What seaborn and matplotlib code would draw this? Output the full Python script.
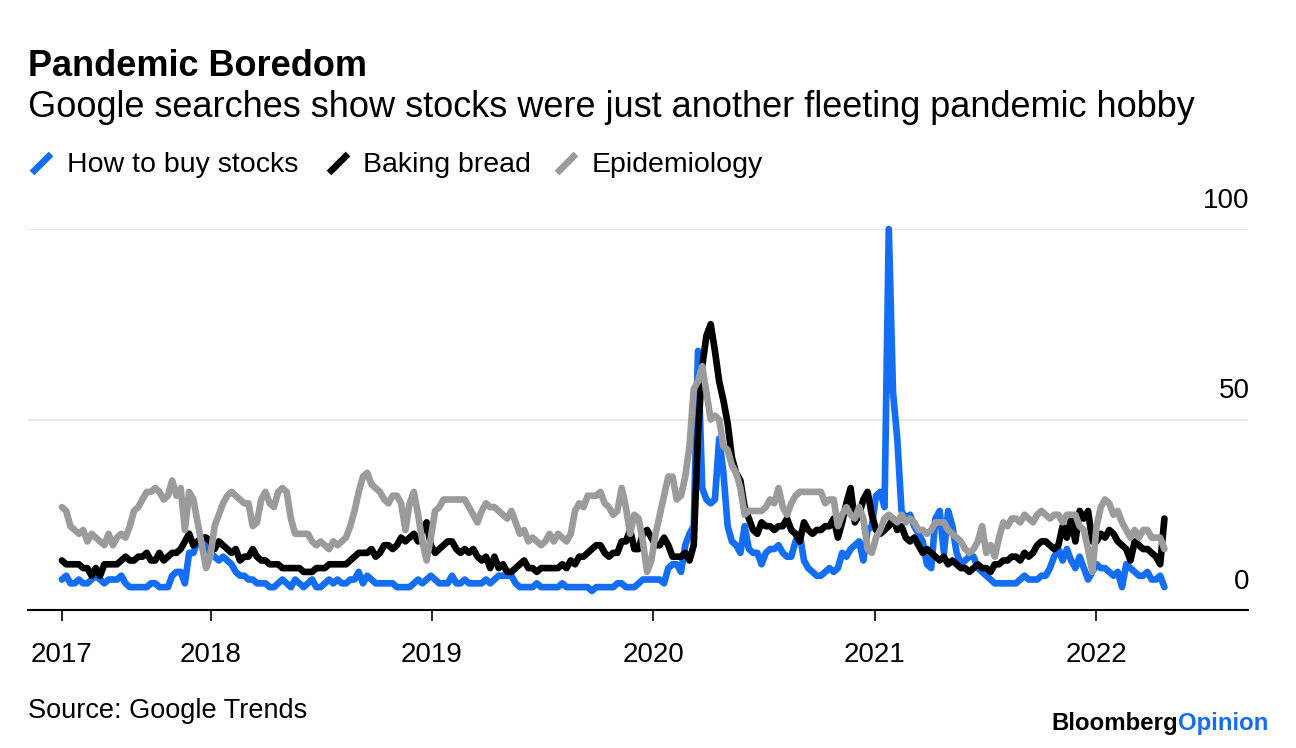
import numpy as np
import pandas as pd
import matplotlib
matplotlib.use("Agg")
import matplotlib.pyplot as plt
from matplotlib.lines import Line2D
import seaborn as sns

# ---------------- data (weekly Google Trends index) ----------------
START = "2017-04-30"
series_names = ["How to buy stocks", "Baking bread", "Epidemiology"]
year_labels = ["2017", "2018", "2019", "2020", "2021", "2022"]
y_ticks = [0, 50, 100]

how_to_buy_stocks = [
    8, 9, 7, 7, 8, 7, 7, 8, 9, 8, 7, 8, 8, 8, 9, 7,
    6, 6, 6, 6, 6, 7, 7, 6, 6, 6,
    9, 10, 10, 7,
    15, 15, 18, 18, 17, 15, 14, 13, 14, 13, 12, 10, 9, 9, 8, 8, 7, 7, 7, 6, 6, 7, 8, 7, 6, 8, 7, 6, 7, 8, 6,
    6, 7, 8, 7, 8, 7, 7, 8, 8, 10, 7, 9, 8, 7, 7, 7, 7, 7, 6, 6, 6, 6, 7, 8, 7, 8, 9, 8, 7, 7,
    7, 9, 7, 7, 8, 7, 7, 7, 7, 8, 7, 8, 9, 9, 9, 9, 7, 6, 6, 6, 6, 7, 6, 6, 6, 6, 6, 7, 6, 6,
    6, 6, 6, 6, 5, 6, 6, 6, 6, 6, 7, 7, 6, 6, 6, 7, 8, 8, 8, 8, 8, 7, 11, 12, 12, 10, 17, 20, 22, 68,
    32, 29, 28, 29, 45, 36, 22, 18, 17, 15, 22, 16, 15, 15, 12, 15, 16, 16, 17, 15, 14, 14, 18, 20, 13, 11, 10, 9, 9, 10, 11, 10,
    11, 15, 14, 16, 17, 18, 13, 21, 22, 30, 31, 27, 100, 57, 45, 26, 24, 25, 22, 20, 18, 12, 11, 24, 26, 15, 26, 22, 15, 12,
    13, 14, 14, 11, 10, 9, 8, 7, 7, 7, 7, 7, 7, 8, 9, 8, 8, 8, 9, 9, 11, 14, 16, 13, 16, 13, 11, 14,
    11, 8, 10, 12, 11, 11, 10, 9, 10, 6, 12, 11, 10, 9, 9, 10, 8, 8, 9, 6,
]

baking_bread = [
    13, 12, 12, 12, 12, 11, 11, 9, 11, 9, 12, 12, 12, 12, 13, 14, 13, 13, 14, 14, 15, 13, 13, 15, 13, 14, 15, 15, 16, 18, 20,
    17, 18, 19, 19, 18, 16, 18, 17, 16, 15, 16, 13, 14, 14, 16, 14, 13, 13, 12, 12, 12, 11, 11, 11, 11, 11, 10, 10, 10, 11,
    11, 11, 12, 12, 12, 12, 12, 13, 14, 15, 15, 15, 16, 14, 15, 17, 17, 16, 17, 19, 18, 19, 20, 18, 21, 23, 17, 15, 16, 17,
    18, 18, 16, 15, 16, 15, 16, 14, 13, 14, 11, 14, 11, 12, 10, 10, 11, 12, 13, 11, 11, 10, 11, 11, 11, 11, 11, 12, 11, 13,
    12, 14, 14, 15, 16, 17, 17, 15, 14, 15, 15, 18, 18, 21, 16, 16, 20, 21, 19, 17, 17, 19, 17, 14, 14, 14, 15, 13, 17, 46, 64, 72, 75,
    68, 60, 55, 49, 40, 36, 34, 27, 24, 21, 20, 23, 22, 22, 21, 22, 22, 24, 21, 20, 18, 23, 21, 20, 21, 21, 22, 22, 24,
    19, 23, 28, 32, 23, 25, 29, 31, 25, 21, 20, 21, 22, 24, 21, 22, 19, 18, 19, 17, 15, 16, 15, 14, 13, 14, 12, 13, 12, 11,
    11, 10, 11, 12, 11, 11, 10, 12, 12, 13, 13, 14, 14, 13, 15, 14, 15, 17, 18, 18, 17, 16, 17, 22, 19, 24, 18, 26,
    24, 26, 18, 18, 20, 19, 21, 20, 18, 17, 16, 13, 18, 17, 16, 16, 15, 14, 12, 24,
]

epidemiology = [
    27, 26, 22, 21, 20, 21, 18, 20, 19, 18, 17, 20, 17, 19, 20, 19, 22, 26, 27, 29, 31, 31, 32, 31, 29, 30, 34, 30, 32,
    21, 31, 29, 23, 17, 11, 14, 22, 25, 28, 30, 31, 30, 29, 28, 28, 22, 23, 29, 31, 28, 27, 31, 32, 31, 24, 20, 20, 20, 20, 18, 17,
    18, 17, 16, 18, 17, 18, 19, 22, 26, 31, 35, 36, 33, 32, 31, 29, 28, 30, 30, 28, 21, 28, 31, 25, 18, 13, 19, 26, 27, 29,
    29, 29, 29, 29, 29, 27, 25, 23, 26, 28, 27, 27, 26, 25, 24, 26, 23, 20, 21, 18, 19, 18, 17, 18, 20, 18, 20, 19, 18, 20,
    26, 28, 27, 30, 30, 30, 31, 28, 27, 25, 26, 32, 27, 20, 25, 24, 18, 10, 13, 20, 25, 30, 35, 35, 29, 30, 35, 43, 58, 60, 64, 57,
    50, 51, 50, 43, 42, 38, 36, 32, 25, 26, 26, 26, 26, 27, 29, 28, 32, 27, 25, 28, 30, 31, 31, 31, 31, 31, 31, 28, 29, 29,
    22, 25, 27, 25, 24, 27, 24, 16, 15, 19, 21, 24, 25, 24, 23, 25, 23, 24, 23, 21, 21, 20, 21, 23, 23, 23, 21, 20, 19, 18,
    16, 15, 16, 18, 22, 15, 17, 14, 19, 23, 22, 24, 24, 23, 25, 24, 23, 25, 26, 25, 24, 25, 25, 23, 25, 25, 25, 22,
    21, 16, 10, 22, 27, 29, 28, 25, 26, 23, 21, 19, 21, 19, 21, 21, 19, 19, 19, 16,
]

colors = {"How to buy stocks": "#146ef5", "Baking bread": "#000000", "Epidemiology": "#9b9b9b"}

dates = pd.date_range(START, periods=len(how_to_buy_stocks), freq="7D")
df = pd.concat([
    pd.DataFrame({"date": dates, "value": vals, "series": name})
    for name, vals in zip(series_names, [how_to_buy_stocks, baking_bread, epidemiology])
], ignore_index=True)

# ---------------- styling ----------------
sns.set_theme(style="white")
plt.rcParams["font.family"] = ["Liberation Sans", "DejaVu Sans"]

W, H = 1296, 748
fig = plt.figure(figsize=(W / 100, H / 100), dpi=100)
fig.patch.set_facecolor("white")
ax = fig.add_axes([28 / W, 1 - 610 / H, 1220 / W, 381 / H])

sns.lineplot(data=df, x="date", y="value", hue="series", hue_order=series_names,
             palette=colors, legend=False, ax=ax, estimator=None)
for ln in ax.get_lines():
    ln.set_linewidth(4.8)
    ln.set_clip_on(False)
    ln.set_solid_joinstyle("round")

ax.set_xlim(dates[0] - pd.Timedelta(days=56), dates[0] + pd.Timedelta(days=1958))
ax.set_ylim(0, 100)
ax.set_xlabel("")
ax.set_ylabel("")

tick_dates = [dates[0]] + [pd.Timestamp(f"{y}-01-01") for y in range(2018, 2023)]
ax.set_xticks(tick_dates)
ax.set_xticklabels(year_labels)
ax.tick_params(axis="x", direction="out", length=8, width=1.2, color="black",
               pad=15, labelsize=20, labelcolor="black", bottom=True)

ax.set_yticks(y_ticks)
ax.tick_params(axis="y", left=False, right=False, labelleft=False)
ax.yaxis.grid(True, color="#e8e8e8", linewidth=1.6)
ax.xaxis.grid(False)
ax.set_axisbelow(True)
for s in ["left", "right", "top"]:
    ax.spines[s].set_visible(False)
ax.spines["bottom"].set_color("black")
ax.spines["bottom"].set_linewidth(1.5)
ax.spines["bottom"].set_zorder(1)

for v in y_ticks:
    ax.annotate(str(v), xy=(1, v), xycoords=("axes fraction", "data"),
                xytext=(1, 11), textcoords="offset points",
                ha="right", va="bottom", fontsize=20, color="black")

# ---------------- titles ----------------
def fy(px):
    return 1 - px / H

fig.text(28 / W, fy(76), "Pandemic Boredom", fontsize=26, fontweight="bold",
         va="baseline", ha="left", color="black")
fig.text(28 / W, fy(117), "Google searches show stocks were just another fleeting pandemic hobby",
         fontsize=26, va="baseline", ha="left", color="black")

# legend
legend_items = [(32, 67), (329, 363), (557, 592)]
for (sx, tx), name in zip(legend_items, series_names):
    fig.add_artist(Line2D([sx / W, (sx + 19) / W], [fy(173), fy(154)],
                          transform=fig.transFigure, color=colors[name],
                          linewidth=4.8, solid_capstyle="butt"))
    fig.text(tx / W, fy(172), name, fontsize=20.5, va="baseline", ha="left", color="black")

fig.text(28 / W, fy(718), "Source: Google Trends", fontsize=19.5, va="baseline", ha="left",
         color="black")

t_op = fig.text(1268 / W, fy(730), "Opinion", fontsize=17.3, fontweight="bold",
                color="#146ef5", ha="right", va="baseline")
ax.annotate("Bloomberg", xy=(0, 0), xycoords=t_op, ha="right", va="bottom",
            fontsize=17.3, fontweight="bold", color="black", annotation_clip=False)

fig.savefig("out.png", dpi=100, facecolor="white")
